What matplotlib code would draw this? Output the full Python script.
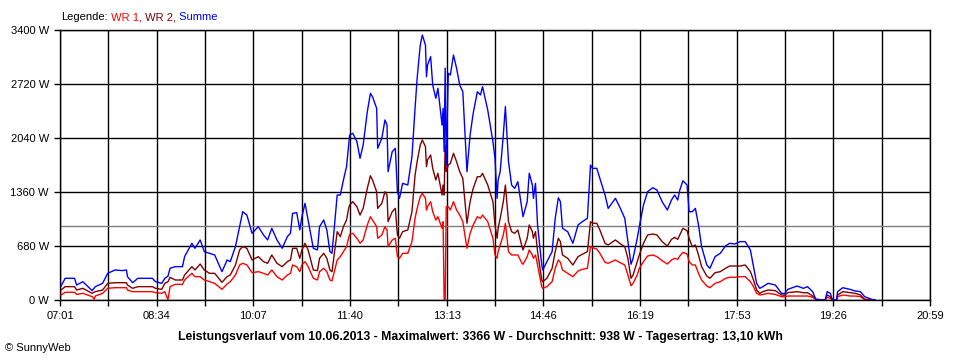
import matplotlib
matplotlib.use("Agg")
import matplotlib.pyplot as plt
import numpy as np

# minutes after midnight, power in W
minute = [422, 426, 431, 435, 437, 443, 452, 454, 455, 462, 467, 474, 481, 485, 486, 491, 496, 503, 510, 513,
          519, 522, 525, 527, 532, 539, 541, 548, 551, 556, 560, 565, 570, 577, 582, 585, 590, 594, 597, 601,
          606, 612, 617, 621, 625, 630, 635, 640, 643, 645, 649, 652, 654, 657, 660, 665, 669, 671, 675, 678,
          681, 683, 688, 691, 694, 697, 699, 700, 703, 707, 710, 713, 717, 720, 722, 726, 727, 731, 734, 736,
          737, 741, 744, 746, 748, 751, 756, 760, 763, 765, 768, 770, 773, 774, 775, 778, 780, 783, 785, 789,
          790, 791, 792, 793, 795, 797, 800, 803, 806, 809, 813, 816, 819, 823, 826, 828, 833, 838, 840, 842,
          843, 845, 848, 850, 853, 856, 859, 862, 866, 867, 871, 873, 876, 877, 879, 881, 885, 886, 890, 895,
          898, 901, 903, 905, 910, 915, 920, 924, 929, 932, 934, 938, 941, 946, 949, 956, 960, 965, 968, 971,
          973, 977, 979, 983, 987, 992, 996, 1001, 1006, 1010, 1013, 1016, 1018, 1021, 1025, 1027, 1030, 1033, 1036, 1039,
          1044, 1047, 1052, 1057, 1062, 1066, 1071, 1076, 1081, 1086, 1089, 1092, 1095, 1098, 1103, 1110, 1116, 1119, 1122, 1131,
          1137, 1141, 1146, 1149, 1158, 1160, 1163, 1165, 1169, 1170, 1175, 1182, 1187, 1192, 1196, 1203, 1206]

summe = [176, 273, 273, 273, 189, 230, 118, 150, 168, 210, 336, 378, 370, 378, 294, 218, 273, 273, 273, 231,
         210, 273, 300, 399, 420, 420, 546, 714, 651, 756, 609, 588, 567, 357, 504, 483, 672, 924, 1112, 1070,
         840, 924, 819, 756, 903, 756, 651, 798, 840, 1091, 1100, 882, 1049, 1217, 1007, 651, 630, 924, 1007, 882,
         609, 588, 1322, 1322, 1511, 1679, 1950, 2078, 2099, 1994, 1784, 1952, 2371, 2603, 2560, 2414, 1910, 2036, 2267, 2204,
         1616, 1868, 1910, 1364, 1280, 1469, 1448, 1805, 2414, 2792, 3211, 3337, 3211, 2812, 2959, 3064, 2707, 2540, 2666, 2204,
         2414, 1868, 2920, 1700, 2855, 2834, 3085, 2918, 2707, 2623, 1616, 2078, 2351, 2623, 2582, 2686, 2393, 1994, 1784, 1280,
         1511, 1616, 2078, 2435, 1742, 1448, 1406, 1490, 1133, 1049, 1238, 1595, 1448, 1280, 1469, 945, 441, 378, 483, 609,
         1028, 1288, 1238, 903, 861, 714, 945, 986, 1028, 1700, 1658, 1658, 1532, 1322, 1154, 1280, 1175, 1028, 735, 450,
         525, 777, 924, 1196, 1364, 1414, 1385, 1238, 1133, 1259, 1322, 1259, 1385, 1502, 1448, 1112, 1112, 1154, 945, 672,
         441, 399, 546, 588, 680, 714, 705, 735, 735, 630, 420, 210, 147, 168, 210, 189, 84, 80, 134, 176,
         147, 168, 105, 8, 0, 105, 84, 0, 0, 105, 155, 134, 113, 105, 42, 8, 0]

wr2 = [126, 168, 168, 168, 126, 147, 84, 100, 105, 126, 210, 218, 218, 218, 189, 147, 168, 168, 168, 147,
       134, 210, 230, 286, 252, 252, 315, 420, 378, 453, 378, 336, 336, 223, 294, 315, 441, 630, 672, 651,
       504, 546, 483, 462, 567, 462, 420, 483, 504, 651, 651, 525, 630, 714, 630, 378, 370, 525, 588, 525,
       378, 357, 861, 798, 924, 1007, 1154, 1196, 1238, 1175, 1070, 1154, 1406, 1565, 1511, 1364, 1154, 1217, 1364, 1322,
       986, 1112, 1154, 819, 777, 861, 882, 1112, 1574, 1742, 1952, 2015, 1931, 1679, 1763, 1826, 1658, 1511, 1595, 1322,
       1448, 1322, 1950, 1616, 1700, 1721, 1847, 1742, 1616, 1532, 966, 1238, 1406, 1553, 1553, 1595, 1448, 1238, 945, 777,
       903, 1028, 1238, 1448, 986, 861, 840, 882, 672, 630, 777, 945, 861, 777, 861, 609, 252, 231, 273, 399,
       609, 777, 735, 567, 525, 441, 546, 575, 609, 986, 966, 966, 882, 714, 693, 756, 714, 672, 525, 273,
       315, 483, 567, 714, 819, 831, 819, 735, 680, 764, 789, 764, 819, 903, 873, 777, 672, 693, 567, 420,
       302, 273, 344, 357, 399, 428, 428, 428, 441, 357, 252, 126, 84, 105, 126, 118, 63, 60, 92, 105,
       92, 92, 50, 8, 0, 63, 42, 0, 0, 63, 105, 92, 84, 63, 8, 0, 0]

wr1 = [63, 97, 97, 97, 70, 84, 42, 10, 50, 84, 147, 155, 155, 155, 126, 105, 105, 105, 105, 92,
       84, 105, 0, 168, 197, 197, 252, 336, 294, 294, 252, 231, 210, 134, 202, 231, 315, 441, 462, 441,
       344, 357, 336, 315, 378, 294, 252, 315, 336, 441, 420, 357, 441, 483, 420, 273, 252, 357, 399, 357,
       252, 240, 504, 546, 609, 672, 777, 827, 840, 777, 714, 756, 945, 1049, 1007, 924, 777, 819, 924, 882,
       672, 756, 777, 546, 525, 588, 588, 735, 1028, 1154, 1301, 1343, 1280, 1133, 1175, 1238, 1112, 1007, 1049, 903,
       986, 0, 0, 1175, 1175, 1133, 1238, 1133, 1070, 986, 651, 840, 945, 1049, 1028, 1070, 986, 777, 567, 525,
       609, 693, 819, 966, 609, 567, 567, 567, 462, 450, 546, 630, 567, 525, 567, 441, 168, 147, 168, 231,
       399, 504, 474, 378, 336, 294, 365, 386, 399, 672, 659, 642, 588, 474, 462, 504, 474, 441, 315, 180,
       210, 315, 399, 483, 554, 567, 546, 495, 453, 504, 525, 512, 554, 600, 580, 483, 441, 441, 336, 252,
       176, 155, 210, 231, 273, 286, 286, 294, 294, 231, 168, 84, 63, 70, 84, 70, 42, 40, 50, 50,
       50, 50, 34, 8, 0, 34, 21, 0, 0, 42, 63, 50, 50, 42, 8, 0, 0]

tick_labels = ["07:01", "08:34", "10:07", "11:40", "13:13", "14:46", "16:19", "17:53", "19:26", "20:59"]
start_min, end_min = 421, 1259
y_ticks = [0, 680, 1360, 2040, 2720, 3400]
average = 938

font = ["Liberation Sans", "DejaVu Sans"]
plt.rcParams["font.family"] = font

fig = plt.figure(figsize=(9.6, 3.6), dpi=100)
ax = fig.add_axes([60 / 960, 60 / 360, 870 / 960, 270 / 360])

ax.plot(minute, wr1, color="#ff0000", lw=1.0, zorder=3)
ax.plot(minute, wr2, color="#800000", lw=1.0, zorder=3)
ax.plot(minute, summe, color="#0000ff", lw=1.0, zorder=4)
ax.axhline(average, color="#808080", lw=1.0, zorder=2)

major = np.linspace(start_min, end_min, len(tick_labels))
minor = (major[:-1] + major[1:]) / 2
ax.set_xlim(start_min, end_min)
ax.set_ylim(0, 3400)
ax.set_xticks(major)
ax.set_xticklabels(tick_labels, fontsize=8)
ax.set_xticks(minor, minor=True)
ax.set_yticks(y_ticks)
ax.set_yticklabels([f"{v} W" for v in y_ticks], fontsize=8)
ax.grid(True, which="both", color="black", lw=1.0, zorder=1)
ax.set_axisbelow(True)
ax.tick_params(which="both", direction="out", length=4, width=1, color="black", pad=4)
for s in ax.spines.values():
    s.set_color("black")
    s.set_linewidth(1.0)

# legend line at the top
t = fig.text(61 / 960, 1 - 17 / 360, "Legende:", va="center", fontsize=8)
for s, c in [(" WR 1,", "#ff0000"), (" WR 2,", "#800000"), (" Summe", "#0000ff")]:
    t = ax.annotate(s, xy=(1, 0), xycoords=t, va="bottom", ha="left", color=c, fontsize=8)

fig.text(0.5, 1 - 337 / 360,
         "Leistungsverlauf vom 10.06.2013 - Maximalwert: 3366 W - Durchschnitt: 938 W - Tagesertrag: 13,10 kWh",
         ha="center", va="center", fontsize=8.8, fontweight="bold")
fig.text(5 / 960, 1 - 348 / 360, "\u00a9 SunnyWeb", va="center", fontsize=8)

fig.savefig("out.png", dpi=100)
